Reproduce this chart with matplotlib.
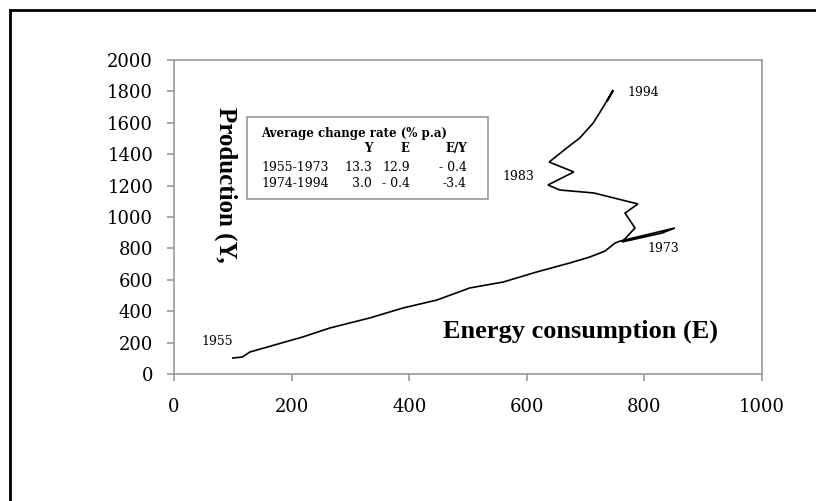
import matplotlib
matplotlib.use("Agg")
import matplotlib.pyplot as plt
from matplotlib.patches import Rectangle
from matplotlib.lines import Line2D

# energy consumption (E) vs production (Y), 1955-1994
energy = [100, 116, 129, 219, 265, 333, 389, 447, 503, 560, 617, 673, 707, 733, 750, 759,
          852, 830, 762, 784, 767, 789, 714, 656, 636, 680, 638, 668, 690, 713, 730, 747, 736, 746]
production = [102, 108, 140, 236, 293, 357, 420, 471, 548, 586, 650, 707, 745, 783, 834, 847,
              930, 898, 841, 930, 1025, 1083, 1153, 1172, 1204, 1287, 1350, 1440, 1503, 1599,
              1701, 1809, 1735, 1800]

x_ticks = [0, 200, 400, 600, 800, 1000]
y_ticks = [0, 200, 400, 600, 800, 1000, 1200, 1400, 1600, 1800, 2000]

tbl_title = "Average change rate (% p.a)"
tbl_head = ["Y", "E", "E/Y"]
tbl_rows = ["1955-1973", "1974-1994"]
tbl_vals = [["13.3", "12.9", "- 0.4"], ["3.0", "- 0.4", "-3.4"]]

year_labels = ["1955", "1973", "1983", "1994"]

SERIF = "DejaVu Serif"
BOLD = "Liberation Serif"
GRIS = "#9a9a9a"

fig = plt.figure(figsize=(8.16, 5.01), dpi=100)
ax = fig.add_axes([174/816, 1-374/501, (762-174)/816, (374-60)/501])

ax.plot(energy, production, color="black", lw=1.2, solid_joinstyle="miter")

ax.set_xlim(0, 1000); ax.set_ylim(0, 2000)
ax.set_xticks(x_ticks); ax.set_yticks(y_ticks)
for s in ax.spines.values():
    s.set_color(GRIS); s.set_linewidth(1.2)
ax.tick_params(axis="both", colors=GRIS, length=5, width=1.2, labelcolor="black", labelsize=13)
ax.tick_params(axis="x", pad=12)
ax.tick_params(axis="y", pad=10)
for lab in ax.get_xticklabels() + ax.get_yticklabels():
    lab.set_family(SERIF)

# axis captions written inside the plot area
ax.text(692, 274, "Energy consumption (E)", family=BOLD, weight="bold", fontsize=19,
        ha="center", va="center")
ax.text(88, 1204, "Production (Y,", family=BOLD, weight="bold", fontsize=18,
        rotation=-90, ha="center", va="center")

# year annotations
for lab, (xx, yy, ha) in zip(year_labels, [(73, 204, "center"), (833, 802, "center"),
                                            (585, 1261, "center"), (772, 1790, "left")]):
    ax.text(xx, yy, lab, family=SERIF, fontsize=9, ha=ha, va="center")

# summary table
ax.add_patch(Rectangle((124, 1115), 410, 522, fill=False, edgecolor=GRIS, lw=1.2))
ax.text(148, 1535, tbl_title, family=SERIF, weight="bold", fontsize=8.5, ha="left", va="center")
cols = [337, 401, 498]
for c, h in zip(cols, tbl_head):
    ax.text(c, 1439, h, family=SERIF, weight="bold", fontsize=8.5, ha="right", va="center")
for yy, r, vals in zip([1318, 1216], tbl_rows, tbl_vals):
    ax.text(148, yy, r, family=SERIF, fontsize=9, ha="left", va="center")
    for c, v in zip(cols, vals):
        ax.text(c, yy, v, family=SERIF, fontsize=9, ha="right", va="center")

# outer frame (left and top edges only are visible)
fig.add_artist(Line2D([10/816, 10/816], [0, 1-10/501], color="black", lw=2, transform=fig.transFigure))
fig.add_artist(Line2D([10/816, 1], [1-10/501, 1-10/501], color="black", lw=2, transform=fig.transFigure))

fig.savefig("out.png", dpi=100, facecolor="white")
